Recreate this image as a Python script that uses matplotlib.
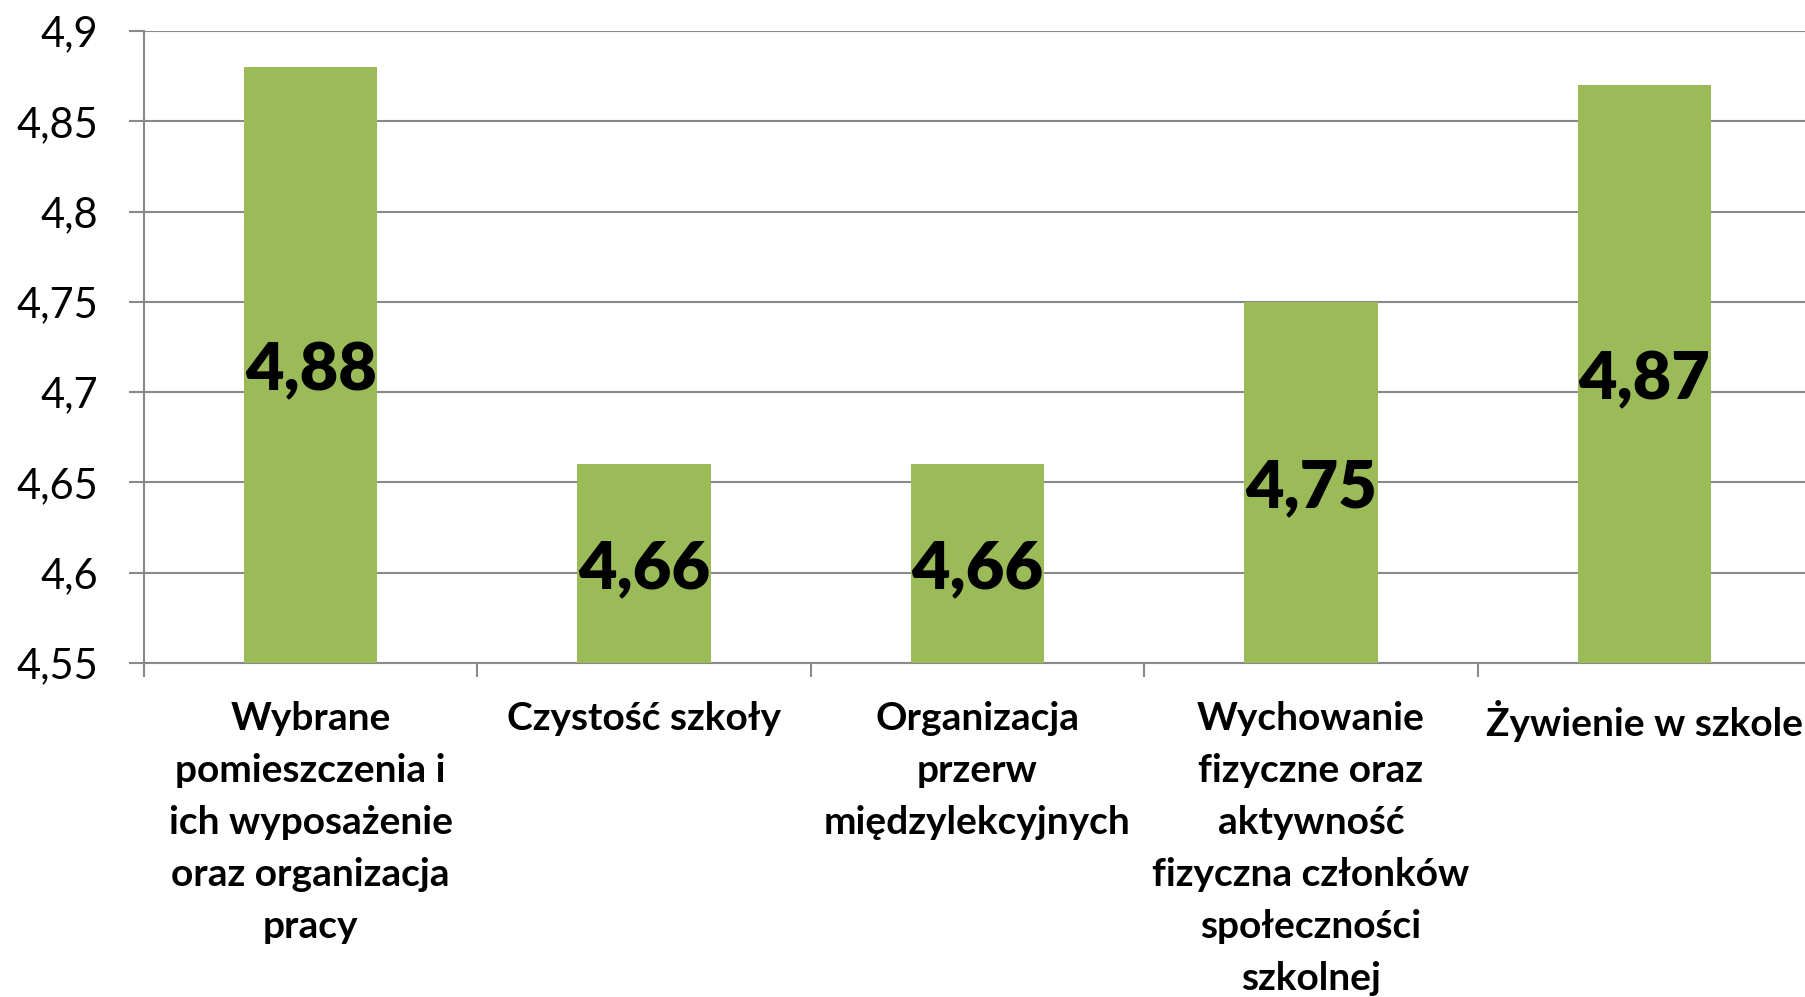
import matplotlib.pyplot as plt
import numpy as np

categories = [
    "Wybrane\npomieszczenia i\nich wyposażenie\noraz organizacja\npracy",
    "Czystość szkoły",
    "Organizacja\nprzerw\nmiędzylekcyjnych",
    "Wychowanie\nfizyczne oraz\naktywność\nfizyczna członków\nspołeczności\nszkolnej",
    "Żywienie w szkole",
]
values = [4.88, 4.66, 4.66, 4.75, 4.87]
yticks = [4.55, 4.6, 4.65, 4.7, 4.75, 4.8, 4.85, 4.9]
ytick_labels = ["4,55", "4,6", "4,65", "4,7", "4,75", "4,8", "4,85", "4,9"]

bar_color = "#9BBB59"
grid_color = "#898989"

plt.rcParams["font.family"] = ["Lato", "DejaVu Sans"]

fig = plt.figure(figsize=(18.06, 9.97), dpi=100)
# plot area runs off the right edge, like the original
ax = fig.add_axes([144 / 1806, 334 / 997, 5 * 333.4 / 1806, 632 / 997])

x = np.arange(len(values))
ax.bar(x, np.array(values) - yticks[0], bottom=yticks[0], width=0.4,
       color=bar_color, zorder=3)

for xi, v in zip(x, values):
    ax.text(xi, (yticks[0] + v) / 2, f"{v:.2f}".replace(".", ","),
            ha="center", va="center_baseline", fontsize=48, fontweight="heavy",
            color="black", zorder=4)

ax.set_xlim(-0.5, 4.5)
ax.set_ylim(yticks[0], yticks[-1])

ax.set_yticks(yticks)
ax.set_yticklabels(ytick_labels, fontsize=30)
ax.tick_params(axis="y", length=11, width=1.5, color=grid_color, pad=22)

# labels at the centres, tick marks at the category boundaries
ax.set_xticks(x)
ax.set_xticklabels(categories, fontsize=28, fontweight="bold",
                   linespacing=1.59, va="top")
ax.set_xticks(np.arange(-0.5, 5, 1), minor=True)
ax.tick_params(axis="x", which="major", length=0, pad=27)
ax.tick_params(axis="x", which="minor", length=10, width=1.5, color=grid_color)

ax.grid(axis="y", color=grid_color, linewidth=1.5, zorder=0)
for s in ["top", "right"]:
    ax.spines[s].set_visible(False)
for s in ["left", "bottom"]:
    ax.spines[s].set_color(grid_color)
    ax.spines[s].set_linewidth(1.5)

fig.savefig("out.png", dpi=100)
